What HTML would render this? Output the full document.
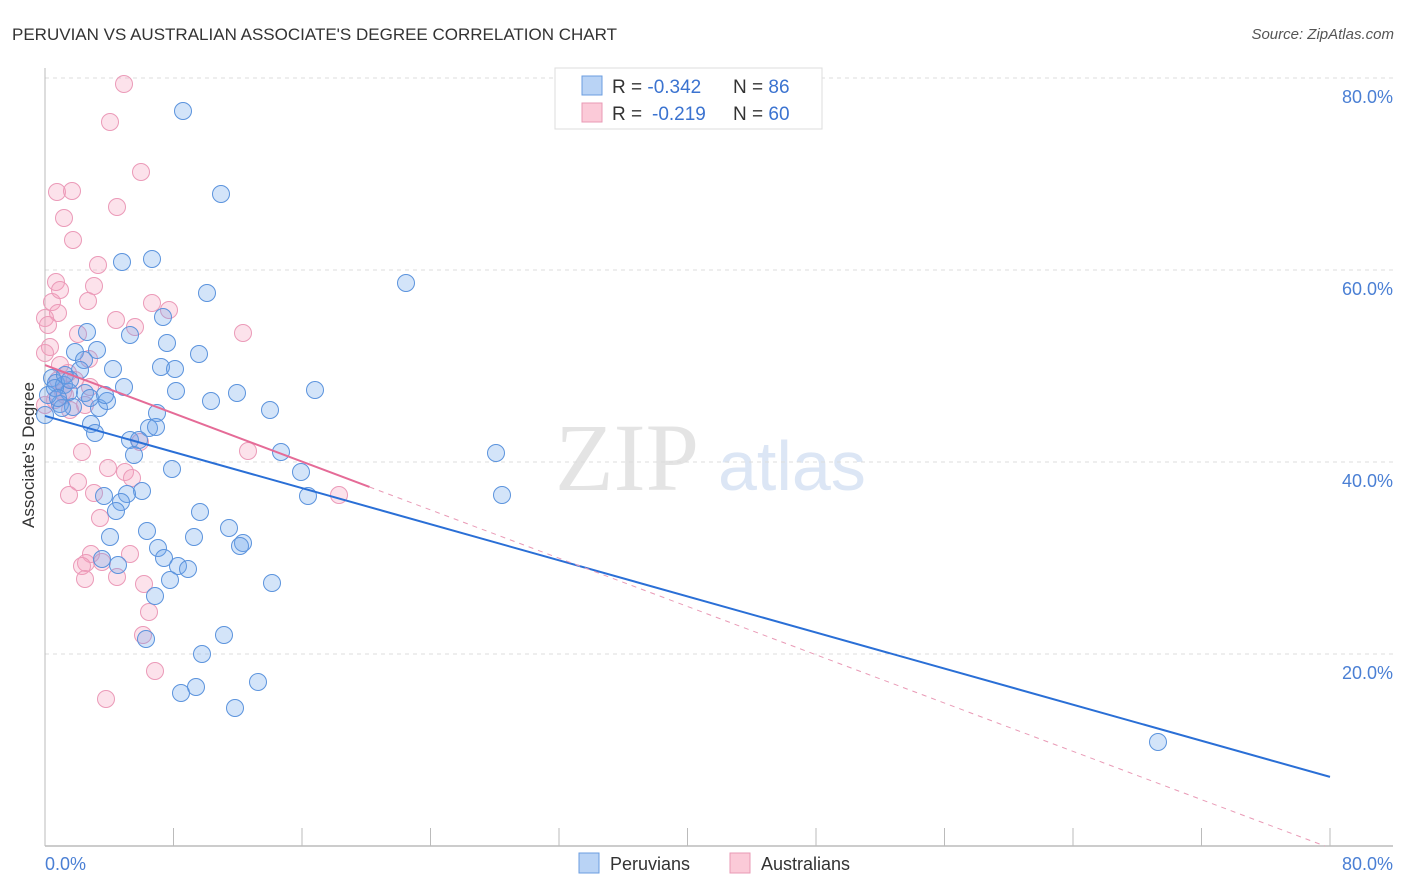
<!DOCTYPE html>
<html><head><meta charset="utf-8"><style>
body{margin:0;background:#fff;font-family:"Liberation Sans",sans-serif;}
svg{display:block}
</style></head><body>
<svg id="c" width="1406" height="892" xmlns="http://www.w3.org/2000/svg">
<text x="12" y="40" font-size="17" fill="#333">PERUVIAN VS AUSTRALIAN ASSOCIATE'S DEGREE CORRELATION CHART</text>
<text x="1394" y="39" font-size="15" fill="#555" font-style="italic" text-anchor="end">Source: ZipAtlas.com</text>
<text x="555" y="490" font-size="96" fill="#e4e4e4" font-family="Liberation Serif,serif">ZIP</text>
<text x="718" y="490" font-size="70" fill="#dce6f5">atlas</text>
<text transform="translate(34,455) rotate(-90)" font-size="17" fill="#333" text-anchor="middle">Associate's Degree</text>
<g id="grid"></g><g id="pts"></g><g id="lines"></g>
<g>
<rect x="555" y="68" width="267" height="61" fill="#fff" stroke="#ddd"/>
<rect x="582" y="76" width="20" height="19" fill="#b9d3f5" stroke="#6b9ee0"/>
<text x="612" y="93" font-size="19" fill="#333">R = <tspan fill="#3b73d0">-0.342</tspan><tspan x="733">N = </tspan><tspan fill="#3b73d0">86</tspan></text>
<rect x="582" y="103" width="20" height="19" fill="#fbcad8" stroke="#e899b5"/>
<text x="612" y="120" font-size="19" fill="#333">R = <tspan x="652" fill="#3b73d0">-0.219</tspan><tspan x="733">N = </tspan><tspan fill="#3b73d0">60</tspan></text>
</g>
<g>
<rect x="579" y="853" width="20" height="20" fill="#b9d3f5" stroke="#6b9ee0"/>
<text x="610" y="870" font-size="18" fill="#333">Peruvians</text>
<rect x="730" y="853" width="20" height="20" fill="#fbcad8" stroke="#e899b5"/>
<text x="761" y="870" font-size="18" fill="#333">Australians</text>
</g>
</svg>
<script>
const blueX=[183,221,406,122,152,207,163,87,130,167,199,75,97,84,113,161,175,52,56,64,69,85,124,176,237,315,211,60,73,99,107,157,270,91,95,149,156,130,139,134,281,301,172,496,502,308,142,127,104,121,116,200,147,229,110,194,243,240,158,164,178,188,102,118,170,272,155,224,146,202,258,196,181,235,1158,45,48,55,65,80,62,70,90,105,58].map(p=>(p-45)/1285*80);
const blueY=[111,194,283,262,259,293,317,332,335,343,354,352,350,360,369,367,369,378,383,385,392,393,387,391,393,390,401,404,407,408,401,413,410,424,433,428,427,440,440,455,452,472,469,453,495,496,491,494,496,502,511,512,531,528,537,537,543,546,548,558,566,569,559,565,580,583,596,635,639,654,682,687,693,708,742,415,395,388,375,370,408,380,398,395,398].map(p=>(846-p)/768*80);
const pinkX=[124,110,141,57,72,117,64,73,98,56,94,52,88,152,169,58,45,116,135,243,78,50,89,68,90,58,63,55,45,70,140,248,82,108,125,132,78,94,69,339,100,91,130,86,82,102,117,144,85,149,143,155,106,45,60,75,65,85,60,48].map(p=>(p-45)/1285*80);
const pinkY=[84,122,172,192,191,207,218,240,265,282,286,302,301,303,310,313,318,320,327,333,334,347,359,373,387,380,392,400,405,410,442,451,452,468,472,478,482,493,495,495,518,554,554,563,566,562,577,584,579,612,635,671,699,353,365,380,395,405,290,325].map(p=>(846-p)/768*80);
const blueFit=[44.8,7.2], pinkFit=[50.1,-0.2];
const yTicks=[20,40,60,80];
const NS="http://www.w3.org/2000/svg";
const sx=v=>45+v/80*1285, sy=v=>846-v/80*768;
function mk(t,a,p){const e=document.createElementNS(NS,t);for(const k in a)e.setAttribute(k,a[k]);p.appendChild(e);return e;}
const g=document.getElementById('grid');
yTicks.forEach(t=>{
 const l=mk('line',{x1:45,x2:1393,y1:sy(t),y2:sy(t),stroke:'#ddd','stroke-dasharray':'4,4'},g);
 
 
 const tx=mk('text',{x:1393,y:sy(t)+25,'font-size':18,fill:'#4a7fd4','text-anchor':'end'},g);
 tx.textContent=t.toFixed(1)+'%';
 
 
});
const ax=mk('line',{x1:45,x2:1393,y1:846,y2:846,stroke:'#bbb','stroke-width':1.5},g);


mk('line',{x1:45,x2:45,y1:68,y2:846,stroke:'#bbb'},g);
for(let i=0;i<=10;i++){const tk=mk('line',{x1:sx(i*8),x2:sx(i*8),y1:828,y2:846,stroke:'#bbb'},g);
 
 }
const x0=mk('text',{x:45,y:870,'font-size':18,fill:'#4a7fd4'},g);x0.textContent='0.0%';


const x1=mk('text',{x:1393,y:870,'font-size':18,fill:'#4a7fd4','text-anchor':'end'},g);x1.textContent='80.0%';


const pg=document.getElementById('pts');
pinkX.forEach((x,i)=>{const c=mk('circle',{cx:sx(x),cy:sy(pinkY[i]),r:8.5,fill:'rgba(244,160,190,0.3)',stroke:'#eb9ab8','stroke-width':1},pg);
 
 });
blueX.forEach((x,i)=>{const c=mk('circle',{cx:sx(x),cy:sy(blueY[i]),r:8.5,fill:'rgba(110,165,235,0.3)',stroke:'#5b93dd','stroke-width':1},pg);
 
 });
const lg=document.getElementById('lines');
const bl=mk('line',{x1:sx(0),y1:sy(blueFit[0]),x2:sx(80),y2:sy(blueFit[1]),stroke:'#2a6fd6','stroke-width':2},lg);


const pslope=(pinkFit[1]-pinkFit[0])/80, pend=20.2, pzero=-pinkFit[0]/pslope;
const pl=mk('line',{x1:sx(0),y1:sy(pinkFit[0]),x2:sx(pend),y2:sy(pinkFit[0]+pslope*pend),stroke:'#e56b97','stroke-width':2},lg);


const pd=mk('line',{x1:sx(pend),y1:sy(pinkFit[0]+pslope*pend),x2:sx(pzero),y2:846,stroke:'#e99ab6','stroke-width':1,'stroke-dasharray':'5,5'},lg);


</script>
</body></html>
